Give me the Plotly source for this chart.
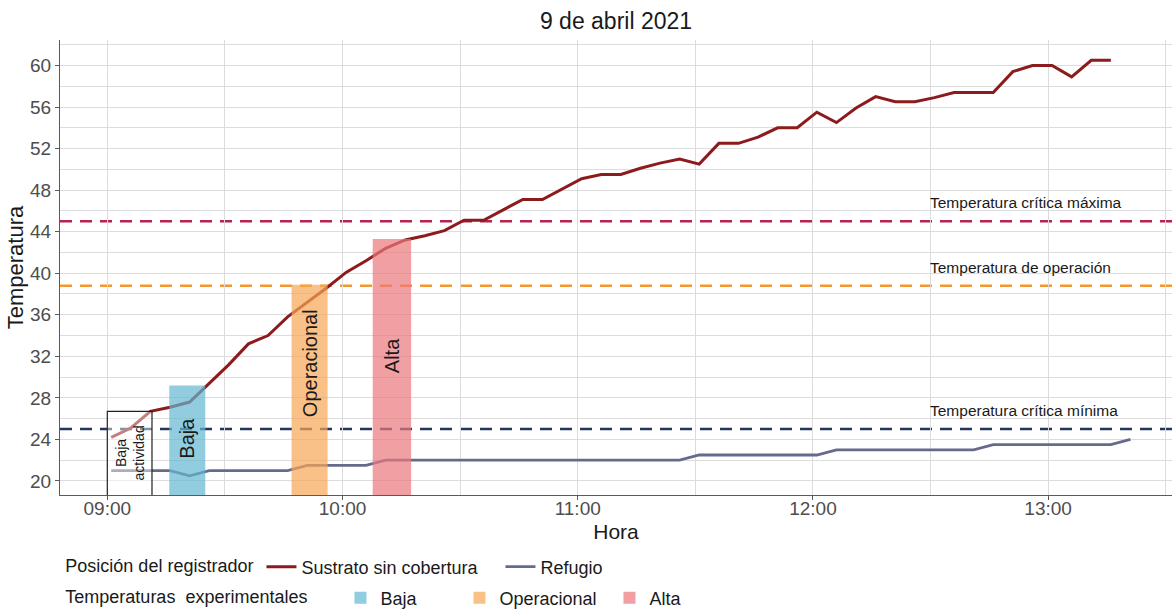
import pandas as pd
import plotly.graph_objects as go

DAY = "2021-04-09"

# Logger readings every five minutes
hours = [
    "09:01", "09:06", "09:11", "09:16", "09:21", "09:26", "09:31", "09:36", "09:41", "09:46", "09:51", "09:56",
    "10:01", "10:06", "10:11", "10:16", "10:21", "10:26", "10:31", "10:36", "10:41", "10:46", "10:51", "10:56",
    "11:01", "11:06", "11:11", "11:16", "11:21", "11:26", "11:31", "11:36", "11:41", "11:46", "11:51", "11:56",
    "12:01", "12:06", "12:11", "12:16", "12:21", "12:26", "12:31", "12:36", "12:41", "12:46", "12:51", "12:56",
    "13:01", "13:06", "13:11", "13:16", "13:21",
]

sustrato = [
    24.2, 25.1, 26.7, 27.1, 27.6, 29.4, 31.2, 33.2, 34.0, 35.8, 37.2, 38.6,
    40.1, 41.2, 42.4, 43.2, 43.6, 44.1, 45.1, 45.1, 46.1, 47.1, 47.1, 48.1,
    49.1, 49.5, 49.5, 50.1, 50.6, 51.0, 50.5, 52.5, 52.5, 53.1, 54.0, 54.0,
    55.5, 54.5, 55.9, 57.0, 56.5, 56.5, 56.9, 57.4, 57.4, 57.4, 59.4, 60.0,
    60.0, 58.9, 60.5, 60.5,
]

refugio = [
    21.0, 21.0, 21.0, 21.0, 20.5, 21.0, 21.0, 21.0, 21.0, 21.0, 21.5, 21.5,
    21.5, 21.5, 22.0, 22.0, 22.0, 22.0, 22.0, 22.0, 22.0, 22.0, 22.0, 22.0,
    22.0, 22.0, 22.0, 22.0, 22.0, 22.0, 22.5, 22.5, 22.5, 22.5, 22.5, 22.5,
    22.5, 23.0, 23.0, 23.0, 23.0, 23.0, 23.0, 23.0, 23.0, 23.5, 23.5, 23.5,
    23.5, 23.5, 23.5, 23.5, 24.0,
]

# Reference temperatures (horizontal dashed lines)
ref_names = ["Temperatura crítica máxima", "Temperatura de operación", "Temperatura crítica mínima"]
ref_values = [45.0, 38.8, 25.0]
ref_colors = ["#B3244F", "#F2982E", "#24365E"]

# Experimental temperature windows
window_names = ["Baja", "Operacional", "Alta"]
window_start = ["09:15:48", "09:47:00", "10:07:42"]
window_end = ["09:25:00", "09:56:12", "10:17:30"]
window_top = [29.2, 38.9, 43.3]
window_colors = ["rgba(98,184,208,0.70)", "rgba(246,166,86,0.70)", "rgba(234,119,124,0.70)"]
window_label_y = [24.1, 31.3, 32.1]

# Low-activity window
low_start = "09:00:00"
low_end = "09:11:24"
low_top = 26.7
low_label = "Baja<br>actividad"
low_label_y = 22.7

FONT = "Liberation Sans, Arial, sans-serif"
INK = "#1a1a1a"
TICK = "#4d4d4d"
GRID = "#dcdcdc"

t = pd.to_datetime([f"{DAY} {h}" for h in hours])
x_range = [f"{DAY} 08:47:56", f"{DAY} 13:31:36"]
y_range = [18.65, 62.45]


def stamp(s):
    return pd.Timestamp(f"{DAY} {s}")


fig = go.Figure()

fig.add_trace(go.Scatter(
    x=t[:len(sustrato)], y=sustrato, mode="lines", name="Sustrato sin cobertura",
    line=dict(color="#8C1B1D", width=3), legend="legend", legendwidth=194,
))
fig.add_trace(go.Scatter(
    x=t[:len(refugio)], y=refugio, mode="lines", name="Refugio",
    line=dict(color="#676B8B", width=2.8), legend="legend",
))

# Windows sit on an overlaid pair of axes so they are drawn above the series
low_w = (stamp(low_end) - stamp(low_start)).total_seconds() * 1000
fig.add_trace(go.Bar(
    x=[stamp(low_start)], y=[low_top], base=0, offset=0, width=[low_w],
    marker=dict(color="rgba(255,255,255,0.45)", line=dict(color="#222222", width=1.2)),
    showlegend=False, xaxis="x2", yaxis="y2", hoverinfo="skip",
))
legend_widths = [74, 105, None]
for name, s, e, top, col, lw in zip(window_names, window_start, window_end, window_top, window_colors, legend_widths):
    w = (stamp(e) - stamp(s)).total_seconds() * 1000
    fig.add_trace(go.Bar(
        x=[stamp(s)], y=[top], base=0, offset=0, width=[w], name=name,
        marker=dict(color=col, line=dict(width=0)),
        xaxis="x2", yaxis="y2", legend="legend2", legendwidth=lw,
    ))

for name, val, col in zip(ref_names, ref_values, ref_colors):
    fig.add_shape(
        type="line", xref="paper", x0=0, x1=1, yref="y", y0=val, y1=val,
        line=dict(color=col, width=2.6, dash="12px,8px"), layer="between",
    )
    fig.add_annotation(
        x=stamp("12:30:00"), y=val, xref="x", yref="y", text=name, showarrow=False,
        xanchor="left", yanchor="bottom", yshift=8, xshift=-3,
        font=dict(family=FONT, size=15.5, color=INK),
    )

for name, s, e, ly in zip(window_names, window_start, window_end, window_label_y):
    mid = stamp(s) + (stamp(e) - stamp(s)) / 2
    fig.add_annotation(
        x=mid, y=ly, xref="x", yref="y", text=name, showarrow=False, textangle=-90,
        font=dict(family=FONT, size=20, color=INK),
    )

low_mid = stamp(low_start) + (stamp(low_end) - stamp(low_start)) / 2
fig.add_annotation(
    x=low_mid, y=low_label_y, xref="x", yref="y", text=low_label, showarrow=False, textangle=-90,
    font=dict(family=FONT, size=14, color=INK),
)

axis_common = dict(
    showline=True, linecolor="#5a5a5a", linewidth=1, mirror=False,
    ticks="outside", ticklen=4, tickcolor="#5a5a5a",
    tickfont=dict(family=FONT, size=19, color=TICK),
    showgrid=True, gridcolor=GRID, gridwidth=1, zeroline=False,
)

fig.update_layout(
    width=1172, height=609,
    margin=dict(l=60, r=0, t=40, b=114, autoexpand=False),
    paper_bgcolor="white", plot_bgcolor="white",
    font=dict(family=FONT, color=INK),
    title=dict(text="9 de abril 2021", x=0.5, xref="paper", y=0.965, yref="container",
               yanchor="middle", font=dict(family=FONT, size=23, color=INK)),
    xaxis=dict(
        type="date", range=x_range, tick0=f"{DAY} 09:00", dtick=3600000, tickformat="%H:%M",
        minor=dict(dtick=1800000, showgrid=True, gridcolor=GRID, ticks=""),
        ticklabelstandoff=-8,
        title=dict(text="Hora", font=dict(family=FONT, size=21, color=INK), standoff=6),
        **axis_common,
    ),
    yaxis=dict(
        range=y_range, tick0=20, dtick=4,
        minor=dict(dtick=2, showgrid=True, gridcolor=GRID, ticks=""),
        title=dict(text="Temperatura", font=dict(family=FONT, size=22, color=INK), standoff=0),
        **axis_common,
    ),
    xaxis2=dict(type="date", range=x_range, overlaying="x", visible=False),
    yaxis2=dict(range=y_range, overlaying="y", visible=False),
    barmode="overlay",
    legend=dict(
        orientation="h", x=0.003, xanchor="left", y=0.069, yref="container", yanchor="middle",
        title=dict(text="Posición del registrador", font=dict(family=FONT, size=18, color=INK)),
        font=dict(family=FONT, size=18, color=INK), bgcolor="rgba(0,0,0,0)",
    ),
    legend2=dict(
        orientation="h", x=0.003, xanchor="left", y=0.018, yref="container", yanchor="middle",
        title=dict(text="Temperaturas&nbsp; experimentales&nbsp;&nbsp;&nbsp;&nbsp;&nbsp;",
                   font=dict(family=FONT, size=18, color=INK)),
        font=dict(family=FONT, size=18, color=INK), bgcolor="rgba(0,0,0,0)",
    ),
    showlegend=True,
)

fig.write_html("out.html")
